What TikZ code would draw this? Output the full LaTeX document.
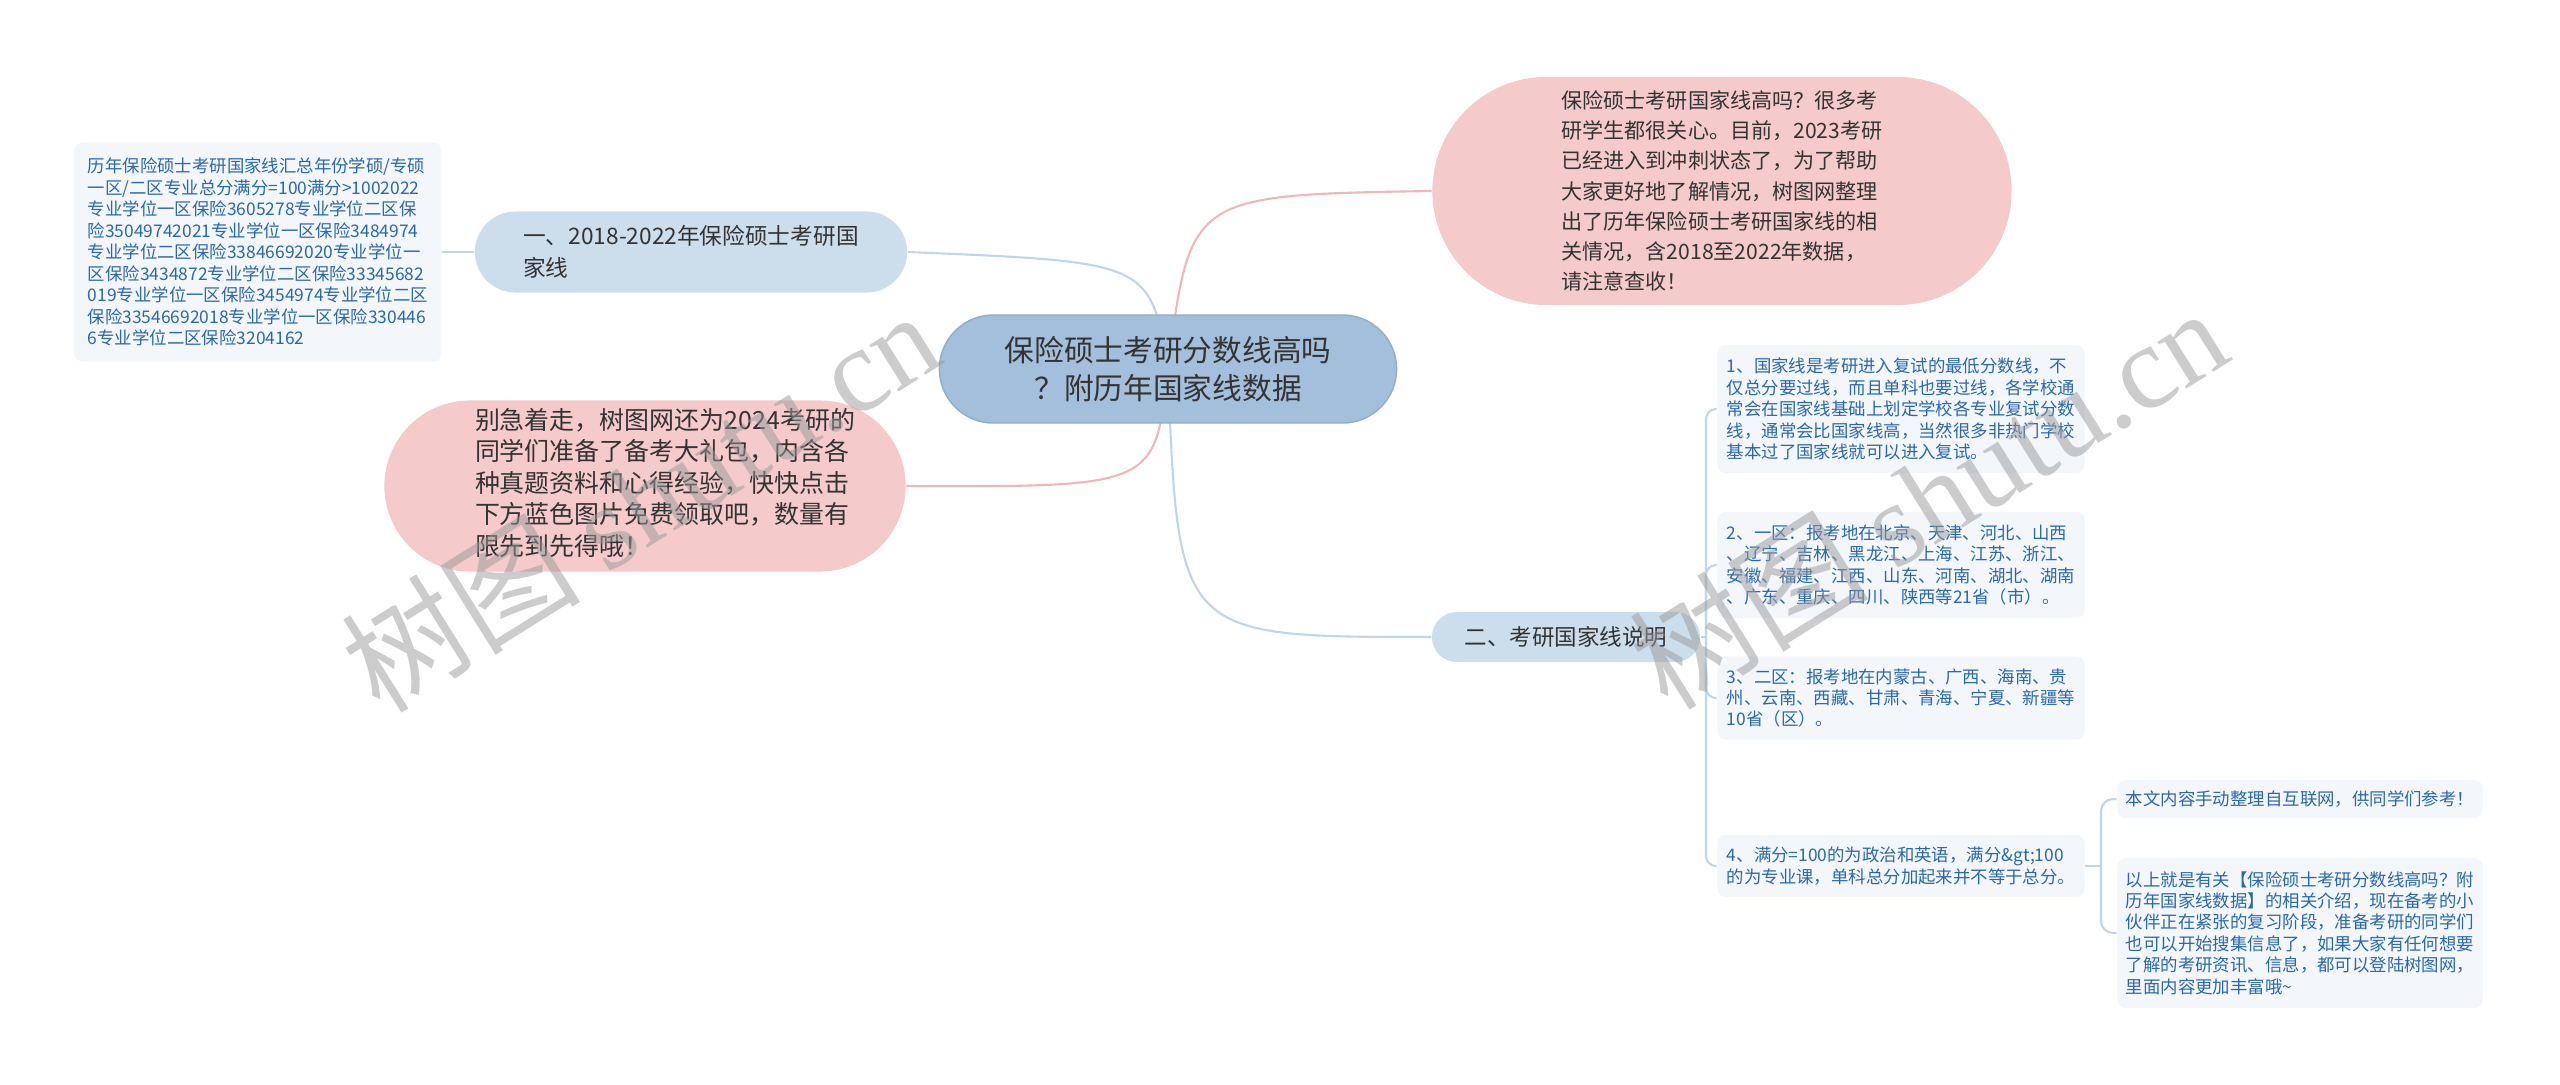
\documentclass[tikz,border=0pt]{standalone}
\usepackage{fontspec}
\setmainfont{Noto Sans CJK SC}
\newfontfamily\wmlatin{Liberation Serif}
\usetikzlibrary{positioning,calc,backgrounds}
\definecolor{HubBlue}{RGB}{163,191,219}
\definecolor{HubEdge}{RGB}{143,173,205}
\definecolor{BranchBlue}{RGB}{204,221,236}
\definecolor{PinkFill}{RGB}{245,202,203}
\definecolor{LeafFill}{RGB}{243,247,252}
\definecolor{LeafInk}{RGB}{43,103,173}
\definecolor{DarkInk}{RGB}{51,51,51}
\definecolor{LineBlue}{RGB}{194,212,230}
\definecolor{LinePink}{RGB}{240,182,184}
\tikzset{
	hub/.style={draw=HubEdge,fill=HubBlue,text=DarkInk,inner sep=0pt,align=center,
		font=\fontsize{8.45}{10.8}\selectfont},
	branch/.style={fill=BranchBlue,text=DarkInk,inner sep=0pt,align=left},
	bubble/.style={fill=PinkFill,text=DarkInk,inner sep=0pt,align=left},
	leaf/.style={fill=LeafFill,text=LeafInk,inner sep=0pt,align=left,rounded corners=0.08cm,
		font=\fontsize{4.95}{6.1}\selectfont},
	bline/.style={draw=LineBlue,line width=0.6pt},
	pline/.style={draw=LinePink,line width=0.6pt},
	wm/.style={text=black!40,opacity=0.5,rotate=32,inner sep=0pt},
}

\begin{document}
\begin{tikzpicture}[x=0.01cm,y=-0.01cm]
	\useasboundingbox (0,0) rectangle (2560,1084);
	\node[hub,minimum width=4.57cm,minimum height=1.08cm,rounded corners=0.54cm] (root) at (1168,369)
		{保险硕士考研分数线高吗\\？附历年国家线数据};
	\node[branch,minimum width=4.32cm,minimum height=0.81cm,rounded corners=0.405cm,
		font=\fontsize{6.45}{9}\selectfont] (sub1) at (691,252)
		{一、2018-2022年保险硕士考研国\\家线};
	\node[leaf,minimum width=3.67cm,minimum height=2.19cm] (lf) at (258,252)
		{历年保险硕士考研国家线汇总年份学硕/专硕\\
		一区/二区专业总分满分=100满分>1002022\\
		专业学位一区保险3605278专业学位二区保\\
		险35049742021专业学位一区保险3484974\\
		专业学位二区保险33846692020专业学位一\\
		区保险3434872专业学位二区保险33345682\\
		019专业学位一区保险3454974专业学位二区\\
		保险33546692018专业学位一区保险330446\\
		6专业学位二区保险3204162};
	\node[bubble,minimum width=5.79cm,minimum height=2.28cm,rounded corners=1.14cm,
		font=\fontsize{6.0}{8.6}\selectfont] (rt) at (1722,191)
		{保险硕士考研国家线高吗？很多考\\
		研学生都很关心。目前，2023考研\\
		已经进入到冲刺状态了，为了帮助\\
		大家更好地了解情况，树图网整理\\
		出了历年保险硕士考研国家线的相\\
		关情况，含2018至2022年数据，\\
		请注意查收！};
	\node[bubble,minimum width=5.21cm,minimum height=1.71cm,rounded corners=0.855cm,
		font=\fontsize{7.1}{8.95}\selectfont] (lt) at (645,486)
		{\hspace*{0.4cm}\begin{tabular}{@{}l@{}}
		别急着走，树图网还为2024考研的\\
		同学们准备了备考大礼包，内含各\\
		种真题资料和心得经验，快快点击\\
		下方蓝色图片免费领取吧，数量有\\
		限先到先得哦！\end{tabular}};
	\node[branch,minimum width=2.68cm,minimum height=0.50cm,rounded corners=0.25cm,
		font=\fontsize{6.4}{8}\selectfont] (sub2) at (1566,637)
		{二、考研国家线说明};
	\node[leaf,minimum width=3.67cm,minimum height=1.28cm] (c1) at (1901,409)
		{1、国家线是考研进入复试的最低分数线，不\\
		仅总分要过线，而且单科也要过线，各学校通\\
		常会在国家线基础上划定学校各专业复试分数\\
		线，通常会比国家线高，当然很多非热门学校\\
		基本过了国家线就可以进入复试。};
	\node[leaf,minimum width=3.67cm,minimum height=1.06cm] (c2) at (1901,565)
		{2、一区：报考地在北京、天津、河北、山西\\
		、辽宁、吉林、黑龙江、上海、江苏、浙江、\\
		安徽、福建、江西、山东、河南、湖北、湖南\\
		、广东、重庆、四川、陕西等21省（市）。};
	\node[leaf,minimum width=3.67cm,minimum height=0.83cm] (c3) at (1901,698)
		{3、二区：报考地在内蒙古、广西、海南、贵\\
		州、云南、西藏、甘肃、青海、宁夏、新疆等\\
		10省（区）。};
	\node[leaf,minimum width=3.67cm,minimum height=0.62cm] (c4) at (1901,866)
		{4、满分=100的为政治和英语，满分\&gt;100\\
		的为专业课，单科总分加起来并不等于总分。};
	\node[leaf,minimum width=3.65cm,minimum height=0.38cm] (c4a) at (2300,799)
		{本文内容手动整理自互联网，供同学们参考！};
	\node[leaf,minimum width=3.65cm,minimum height=1.50cm] (c4b) at (2300,933)
		{以上就是有关【保险硕士考研分数线高吗？附\\
		历年国家线数据】的相关介绍，现在备考的小\\
		伙伴正在紧张的复习阶段，准备考研的同学们\\
		也可以开始搜集信息了，如果大家有任何想要\\
		了解的考研资讯、信息，都可以登陆树图网，\\
		里面内容更加丰富哦\textasciitilde};
	\coordinate (fork) at (1706,637);
	\coordinate (forkb) at (2101,866);
	\begin{scope}[on background layer]
		\draw[bline] (root.center) .. controls (1150,262) .. (sub1.east);
		\draw[bline] (sub1.west) -- (lf.east);
		\draw[pline] (root.center) .. controls (1190,195) .. (rt.west);
		\draw[pline] (root.center) .. controls (1155,487) .. (lt.east);
		\draw[bline] (root.center) .. controls (1178,637) .. (sub2.west);
		\draw[bline] (sub2.east) -- (fork);
		\draw[bline,rounded corners=0.1cm] (fork) |- (c1.west);
		\draw[bline,rounded corners=0.1cm] (fork) |- (c2.west);
		\draw[bline,rounded corners=0.1cm] (fork) |- (c3.west);
		\draw[bline,rounded corners=0.1cm] (fork) |- (c4.west);
		\draw[bline] (c4.east) -- (forkb);
		\draw[bline,rounded corners=0.12cm] (forkb) |- (c4a.west);
		\draw[bline,rounded corners=0.12cm] (forkb) |- (c4b.west);
	\end{scope}
	\node[wm,font=\fontsize{34}{34}\selectfont] (wmleft) at (640,500) {树图 {\wmlatin shutu.cn}};
	\node[wm,font=\fontsize{34}{34}\selectfont] (wmright) at (1928,497) {树图 {\wmlatin shutu.cn}};
\end{tikzpicture}
\end{document}
